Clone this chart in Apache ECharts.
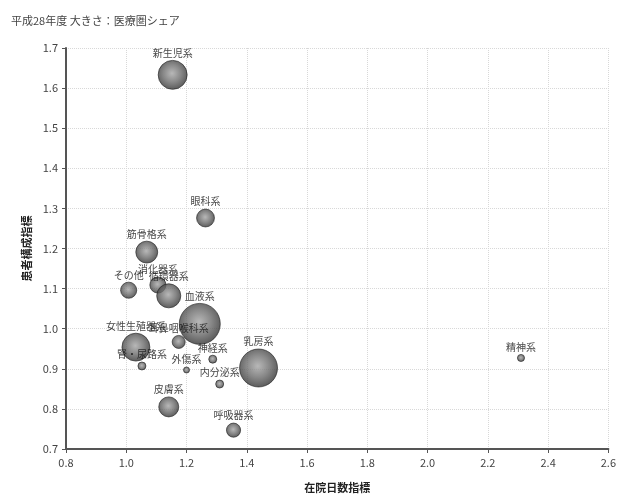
<!DOCTYPE html>
<html>
<head>
<meta charset="utf-8">
<script src="https://cdn.jsdelivr.net/npm/echarts@6/dist/echarts.min.js"></script>
<style>
  html, body { margin: 0; padding: 0; background: #fff; }
  #chart { width: 619px; height: 498px; }
</style>
</head>
<body>
<div id="chart"></div>
<script>
// MDC categories with length-of-stay index (x), case-mix index (y) and regional share (bubble size)
const categories = ['新生児系', '眼科系', '筋骨格系', 'その他', '消化器系', '循環器系', '血液系',
  '女性生殖器系', '耳鼻咽喉科系', '腎・尿路系', '神経系', '外傷系', '内分泌系', '乳房系', '皮膚系', '呼吸器系', '精神系'];
const stayIndex = [1.154, 1.263, 1.068, 1.008, 1.105, 1.141, 1.244,
  1.032, 1.174, 1.052, 1.287, 1.200, 1.310, 1.439, 1.141, 1.356, 2.310];
const caseMixIndex = [1.633, 1.276, 1.191, 1.096, 1.109, 1.082, 1.012,
  0.954, 0.967, 0.907, 0.924, 0.897, 0.862, 0.902, 0.805, 0.747, 0.927];
const share = [8.4, 3.2, 4.8, 2.6, 2.6, 5.8, 16.8,
  7.8, 1.7, 0.64, 0.64, 0.36, 0.64, 14.4, 4.0, 2.0, 0.5];

const xTicks = { min: 0.8, max: 2.6, step: 0.2 };
const yTicks = { min: 0.7, max: 1.7, step: 0.1 };

const font = '"Noto Sans CJK JP", "Noto Sans", sans-serif';

const bubbleFill = {
  type: 'radial', x: 0.48, y: 0.45, r: 0.6,
  colorStops: [
    { offset: 0, color: '#a6a6a6' },
    { offset: 0.5, color: '#6a6a6a' },
    { offset: 1, color: '#262626' }
  ]
};

const chart = echarts.init(document.getElementById('chart'), null, { renderer: 'canvas' });
chart.setOption({
  backgroundColor: '#ffffff',
  animation: false,
  title: {
    text: '平成28年度 大きさ：医療圏シェア',
    left: 6, top: 10,
    textStyle: { fontFamily: font, fontSize: 11, fontWeight: 'normal', color: '#444' }
  },
  grid: { left: 66, right: 9, top: 48, bottom: 49 },
  xAxis: {
    type: 'value',
    min: xTicks.min, max: xTicks.max, interval: xTicks.step,
    name: '在院日数指標',
    nameLocation: 'middle', nameGap: 33,
    nameTextStyle: { fontFamily: font, fontSize: 11, fontWeight: 'bold', color: '#222' },
    axisLine: { show: true, lineStyle: { color: '#555', width: 2 } },
    axisTick: { show: true, length: 4, lineStyle: { color: '#555' } },
    axisLabel: { fontFamily: font, fontSize: 11, color: '#444', margin: 8,
      formatter: v => v.toFixed(1) },
    splitLine: { show: true, lineStyle: { color: '#d8d8d8', type: 'dotted', width: 1 } }
  },
  yAxis: {
    type: 'value',
    min: yTicks.min, max: yTicks.max, interval: yTicks.step,
    name: '患者構成指標',
    nameLocation: 'middle', nameGap: 30, nameRotate: 90,
    nameTextStyle: { fontFamily: font, fontSize: 11, fontWeight: 'bold', color: '#222' },
    axisLine: { show: true, lineStyle: { color: '#555', width: 2 } },
    axisTick: { show: true, length: 4, lineStyle: { color: '#555' } },
    axisLabel: { fontFamily: font, fontSize: 11, color: '#444', margin: 8,
      formatter: v => v.toFixed(1) },
    splitLine: { show: true, lineStyle: { color: '#d8d8d8', type: 'dotted', width: 1 } }
  },
  series: [{
    type: 'scatter',
    data: categories.map((name, i) => ({ name, value: [stayIndex[i], caseMixIndex[i], share[i]] })),
    symbolSize: d => Math.sqrt(d[2]) * 10,
    itemStyle: { color: bubbleFill, borderColor: '#222', borderWidth: 0.8 },
    label: {
      show: true, position: 'top', distance: 2,
      formatter: p => p.name,
      fontFamily: font, fontSize: 10, color: '#111'
    }
  }]
});
</script>
</body>
</html>
